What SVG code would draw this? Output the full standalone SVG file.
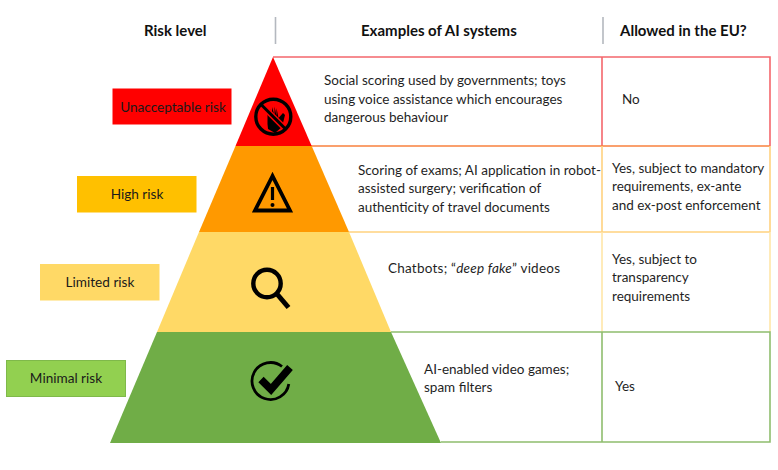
<svg xmlns="http://www.w3.org/2000/svg" width="778" height="470" viewBox="0 0 778 470">
<style>
text{font-family:Lato,"Open Sans","Liberation Sans",sans-serif;font-size:13.5px;fill:#1f1f1f}
.h{font-weight:700;font-size:15px;fill:#111}
.m{text-anchor:middle;font-size:13.600px;fill:#1a1a1a}
.c{fill:none;stroke-width:1.6}
.i{fill:none;stroke:#000}
</style>
<rect width="778" height="470" fill="#fff"/>
<g id="headers">
<text class="h" x="144" y="36">Risk level</text>
<text class="h" x="361" y="36">Examples of AI systems</text>
<text class="h" x="620" y="36">Allowed in the EU?</text>
<path d="M275.500 17V44M603 17V44" stroke="#b4b8bf" stroke-width="1.600" fill="none"/>
</g>
<g id="connectors">
<path class="c" stroke="#f4676c" d="M273 57H602V146M602 57H770V146"/>
<path class="c" stroke="#f8813d" d="M311 146H770"/>
<path class="c" stroke="#ffd27f" d="M602 146V232M770 146V232M349 232H770"/>
<path class="c" stroke="#ffe7a8" d="M602 232V332M770 232V332"/>
<path class="c" stroke="#8fbd6e" d="M391 332H770V442H441M602 332V442"/>
</g>
<g id="level-unacceptable">
<polygon points="273,57 311.700,146 235.500,146" fill="#ff0000"/>
<rect x="112.500" y="88.500" width="119" height="36" fill="#ff0000"/>
<text class="m" x="173" y="112">Unacceptable risk</text>
<path d="M267.500 124V114L270 117V109L272 116V107L274.500 115.500V106.500L276.500 116V108L278.500 118L283 113L285 115L282 127L275 133L268 129Z" fill="#000"/>
<path d="M260.500 104L286 129.500" stroke="#ff0000" stroke-width="6" fill="none"/>
<circle cx="273.300" cy="116.700" r="17.500" class="i" stroke-width="3.400"/>
<path d="M260.800 104.200L285.800 129.200" class="i" stroke-width="3"/>
</g>
<g id="level-high">
<polygon points="235.500,146 311.700,146 349,232 199,232" fill="#ff9900"/>
<rect x="77" y="176" width="119.500" height="36.500" fill="#ffc000"/>
<text class="m" x="137" y="199">High risk</text>
<path d="M272.500 176L255 210.500H290Z" class="i" stroke-width="3.800" stroke-linejoin="miter"/>
<path d="M272.500 187V200" stroke="#000" stroke-width="3.200" fill="none"/>
<circle cx="272.500" cy="205" r="2" fill="#000"/>
</g>
<g id="level-limited">
<polygon points="199,232 349,232 391,332 157,332" fill="#ffd966"/>
<rect x="40" y="264" width="119.500" height="36.500" fill="#ffd966"/>
<text class="m" x="100" y="287">Limited risk</text>
<circle cx="267" cy="283.500" r="13.700" class="i" stroke-width="4.400"/>
<path d="M277 294L288.500 307.500" stroke="#000" stroke-width="5" fill="none"/>
</g>
<g id="level-minimal">
<polygon points="157,332 391,332 441,443 110,443" fill="#70ad47"/>
<rect x="6.500" y="360.500" width="119" height="36" fill="#92d050" stroke="#7fb94a"/>
<text class="m" x="66" y="383">Minimal risk</text>
<path d="M282 366.500A18.500 18.500 0 1 0 288.800 384" class="i" stroke-width="2.800"/>
<path d="M261 379.500L271 389.500L290 367.500" class="i" stroke-width="7.500"/>
</g>
<g id="examples">
<text x="324" y="85">Social scoring used by governments; toys</text>
<text x="324" y="104">using voice assistance which encourages</text>
<text x="324" y="122">dangerous behaviour</text>
<text x="358" y="175">Scoring of exams; AI application in robot-</text>
<text x="358" y="193">assisted surgery; verification of</text>
<text x="358" y="212">authenticity of travel documents</text>
<text x="388" y="273" textLength="172">Chatbots; “<tspan font-style="italic">deep fake</tspan>” videos</text>
<text x="424" y="374">AI-enabled video games;</text>
<text x="424" y="392">spam filters</text>
</g>
<g id="allowed">
<text x="622" y="104">No</text>
<text x="612" y="173">Yes, subject to mandatory</text>
<text x="612" y="191">requirements, ex-ante</text>
<text x="612" y="210">and ex-post enforcement</text>
<text x="612" y="264">Yes, subject to</text>
<text x="612" y="282">transparency</text>
<text x="612" y="301">requirements</text>
<text x="615" y="391">Yes</text>
</g>
</svg>
